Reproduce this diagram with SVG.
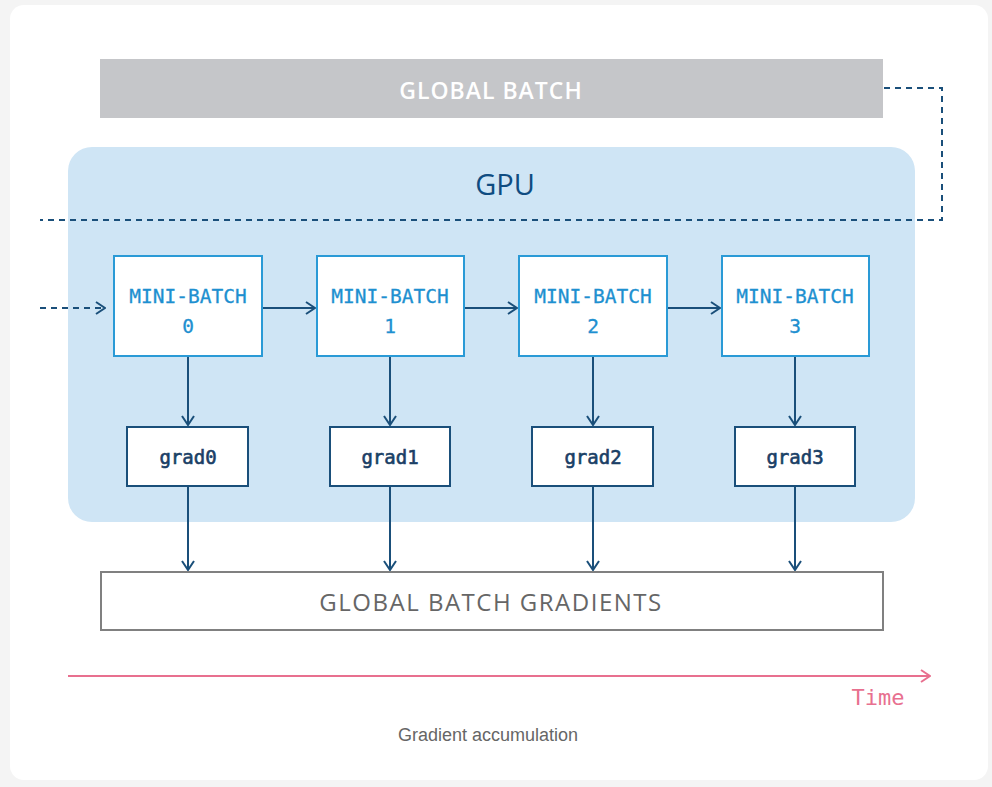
<svg xmlns="http://www.w3.org/2000/svg" width="992" height="787" viewBox="0 0 992 787">
<style>
.mb rect{fill:#fff;stroke:#2a9ad6;stroke-width:2}
.mb text{fill:#1e90d0;font-family:"DejaVu Sans Mono","Liberation Mono",monospace;font-size:19.5px;text-anchor:middle;stroke:#1e90d0;stroke-width:0.3}
.gr rect{fill:#fff;stroke:#1a4f7a;stroke-width:2}
.gr text{fill:#1a3f66;font-family:"DejaVu Sans Mono","Liberation Mono",monospace;font-size:19px;text-anchor:middle;stroke:#1a3f66;stroke-width:0.6}
.c{fill:none;stroke:#1a4f7a;stroke-width:2}
.d{fill:none;stroke:#1a4f7a;stroke-width:2;stroke-dasharray:6 5}
</style>
<defs>
<marker id="ah" viewBox="0 0 14 14" refX="13" refY="7" markerWidth="14" markerHeight="14" markerUnits="userSpaceOnUse" orient="auto">
<path d="M4,1 L13,7 L4,13" fill="none" stroke="#1a4f7a" stroke-width="2"/>
</marker>
<marker id="ap" viewBox="0 0 14 14" refX="13" refY="7" markerWidth="14" markerHeight="14" markerUnits="userSpaceOnUse" orient="auto">
<path d="M4,1 L13,7 L4,13" fill="none" stroke="#e8708f" stroke-width="2"/>
</marker>
</defs>
<rect width="992" height="787" fill="#f4f4f4"/>
<rect x="10" y="5" width="978" height="775" rx="14" fill="#fff"/>
<g id="global-batch">
<rect x="100" y="59" width="783" height="59" fill="#c5c6c9"/>
<text x="491" y="99" fill="#fff" font-family="'Open Sans','Liberation Sans',sans-serif" font-size="23" font-weight="600" text-anchor="middle" letter-spacing="1">GLOBAL BATCH</text>
</g>
<g id="gpu">
<rect x="68" y="147" width="847" height="375" rx="24" fill="#cfe5f5"/>
<text x="505" y="195" fill="#0f4c81" font-family="'Open Sans','Liberation Sans',sans-serif" font-size="29" font-weight="500" text-anchor="middle">GPU</text>
</g>
<g id="connectors">
<path class="d" d="M884,88 H942 V220 H40"/>
<path class="d" d="M40,308 H105" marker-end="url(#ah)"/>
<path class="c" d="M262,308 H315" marker-end="url(#ah)"/>
<path class="c" d="M464,308 H517" marker-end="url(#ah)"/>
<path class="c" d="M667,308 H720" marker-end="url(#ah)"/>
<path class="c" d="M188,356 V425" marker-end="url(#ah)"/>
<path class="c" d="M390,356 V425" marker-end="url(#ah)"/>
<path class="c" d="M593,356 V425" marker-end="url(#ah)"/>
<path class="c" d="M795,356 V425" marker-end="url(#ah)"/>
<path class="c" d="M188,486 V570" marker-end="url(#ah)"/>
<path class="c" d="M390,486 V570" marker-end="url(#ah)"/>
<path class="c" d="M593,486 V570" marker-end="url(#ah)"/>
<path class="c" d="M795,486 V570" marker-end="url(#ah)"/>
</g>
<g id="mb0" class="mb"><rect x="114" y="256" width="148" height="100"/><text x="188" y="303">MINI-BATCH</text><text x="188" y="333">0</text></g>
<g id="mb1" class="mb"><rect x="317" y="256" width="147" height="100"/><text x="390" y="303">MINI-BATCH</text><text x="390" y="333">1</text></g>
<g id="mb2" class="mb"><rect x="519" y="256" width="148" height="100"/><text x="593" y="303">MINI-BATCH</text><text x="593" y="333">2</text></g>
<g id="mb3" class="mb"><rect x="722" y="256" width="147" height="100"/><text x="795" y="303">MINI-BATCH</text><text x="795" y="333">3</text></g>
<g id="g0" class="gr"><rect x="127" y="427" width="121" height="59"/><text x="188" y="464">grad0</text></g>
<g id="g1" class="gr"><rect x="330" y="427" width="120" height="59"/><text x="390" y="464">grad1</text></g>
<g id="g2" class="gr"><rect x="532" y="427" width="121" height="59"/><text x="593" y="464">grad2</text></g>
<g id="g3" class="gr"><rect x="735" y="427" width="120" height="59"/><text x="795" y="464">grad3</text></g>
<g id="global-gradients">
<rect x="101" y="572" width="782" height="58" fill="#fff" stroke="#808080" stroke-width="2"/>
<text x="491" y="611" fill="#666" font-family="'Open Sans','Liberation Sans',sans-serif" font-size="24" font-weight="500" text-anchor="middle" letter-spacing="1.5">GLOBAL BATCH GRADIENTS</text>
</g>
<g id="time">
<path d="M68,676 H930" fill="none" stroke="#e8708f" stroke-width="2" marker-end="url(#ap)"/>
<text x="878" y="705" fill="#e8708f" font-family="'DejaVu Sans Mono','Liberation Mono',monospace" font-size="22" text-anchor="middle">Time</text>
</g>
<text x="488" y="741" fill="#666" font-family="'Liberation Sans','Noto Sans',sans-serif" font-size="18" text-anchor="middle">Gradient accumulation</text>
</svg>
